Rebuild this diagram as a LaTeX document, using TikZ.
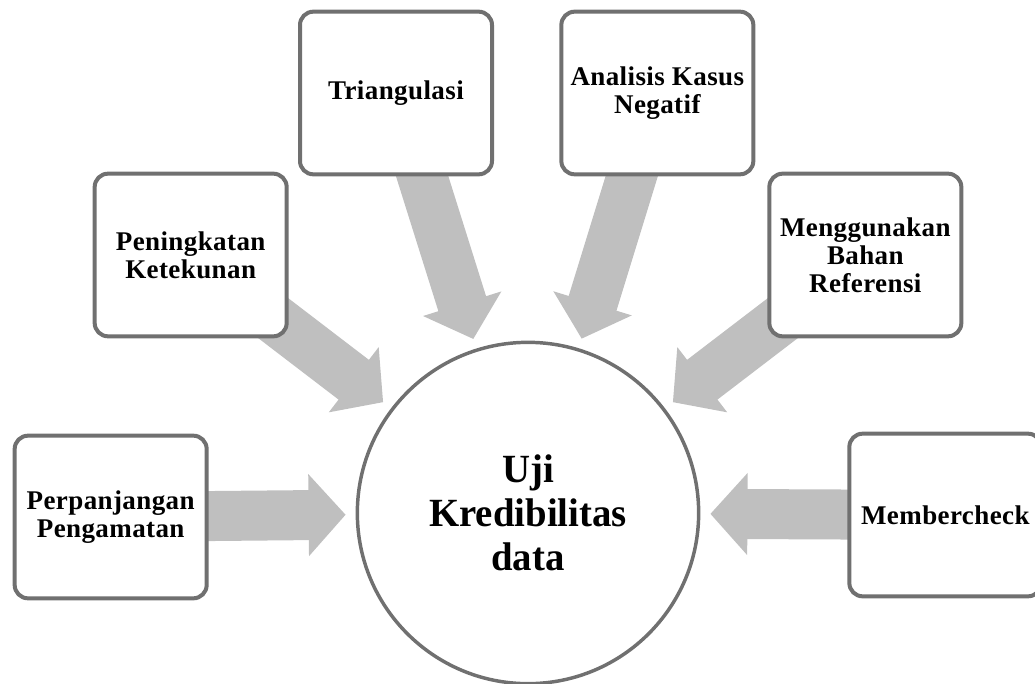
\documentclass[tikz,border=0pt]{standalone}
\usepackage{fontspec}
\setmainfont{Liberation Serif}[LetterSpace=1.5]
\newfontfamily\corefont{Liberation Serif}[FakeStretch=0.97]
\usepackage{tikz}
\usepackage{xcolor}
\usetikzlibrary{arrows.meta, positioning, backgrounds}
\definecolor{edge}{RGB}{112,112,112}
\definecolor{flow}{RGB}{191,191,191}

\begin{document}
\begin{tikzpicture}[
    x=0.75pt, y=-0.75pt,
    on grid,
    method/.style={rectangle, rounded corners=10pt, draw=edge, line width=3pt, fill=white, minimum width=144pt, minimum height=122pt, align=center, inner sep=2pt, font=\fontsize{20.25}{21}\selectfont\bfseries},
    core/.style={circle, draw=edge, line width=2.6pt, fill=white, minimum size=256pt, align=center, font=\corefont\fontsize{30}{33}\selectfont\bfseries},
    flow/.style={line width=37.5pt, draw=flow, -{Triangle[length=27.75pt, width=60pt]}, shorten >=7.5pt}
]
\useasboundingbox (0,0) rectangle (1035,684);

\node[core] (uji) at (528,513) {Uji\\Kredibilitas\\data};

\node[method, below left=3pt and 313pt of uji] (perp) {Perpanjangan\\Pengamatan};
\node[method, above left=193.5pt and 253pt of uji] (tekun) {Peningkatan\\Ketekunan};
\node[method, above left=315pt and 99pt of uji] (tri) {Triangulasi};
\node[method, above right=315pt and 97pt of uji] (negatif) {Analisis Kasus\\Negatif};
\node[method, above right=193.5pt and 253pt of uji] (ref) {Menggunakan\\Bahan\\Referensi};
\node[method, below right=1.5pt and 313pt of uji] (member) {Membercheck};

\begin{scope}[on background layer]
\draw[flow] (perp.center) -- (uji);
\draw[flow] (tekun.center) -- (uji);
\draw[flow] (tri.center) -- (uji);
\draw[flow] (negatif.center) -- (uji);
\draw[flow] (ref.center) -- (uji);
\draw[flow] (member.center) -- (uji);
\end{scope}

\end{tikzpicture}
\end{document}
